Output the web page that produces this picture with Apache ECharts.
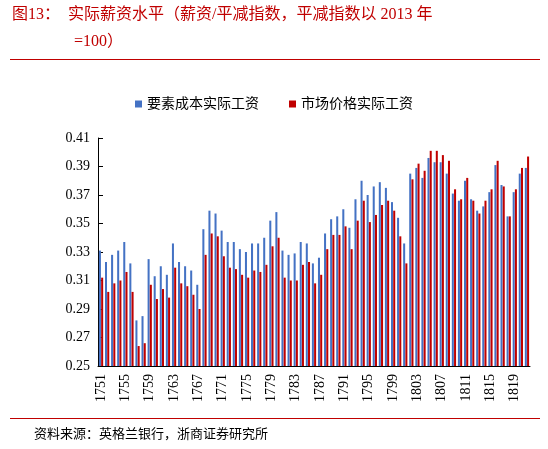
<!DOCTYPE html><html><head><meta charset="utf-8">
<script src="https://cdn.jsdelivr.net/npm/echarts@6/dist/echarts.min.js"></script>
<style>body{margin:0;background:#fff}#c{width:548px;height:449px}</style></head><body><div id="c"></div><script>
const years=[];for(let y=1751;y<=1821;y++)years.push(String(y));
const factorCost=[0.331,0.323,0.328,0.331,0.337,0.322,0.282,0.285,0.325,0.313,0.320,0.314,0.336,0.323,0.320,0.317,0.307,0.346,0.359,0.357,0.345,0.337,0.337,0.332,0.330,0.336,0.336,0.340,0.352,0.358,0.331,0.328,0.329,0.337,0.336,0.322,0.326,0.343,0.353,0.355,0.360,0.347,0.367,0.380,0.370,0.376,0.379,0.375,0.365,0.354,0.336,0.385,0.389,0.382,0.396,0.393,0.393,0.385,0.371,0.366,0.380,0.367,0.359,0.362,0.372,0.391,0.377,0.355,0.372,0.385,0.389];
const marketPrice=[0.312,0.302,0.308,0.310,0.316,0.302,0.264,0.266,0.307,0.297,0.304,0.298,0.319,0.308,0.306,0.300,0.290,0.328,0.343,0.341,0.327,0.319,0.318,0.314,0.312,0.317,0.316,0.321,0.334,0.340,0.312,0.310,0.310,0.321,0.323,0.308,0.314,0.332,0.342,0.342,0.348,0.332,0.352,0.366,0.351,0.356,0.363,0.366,0.359,0.341,0.322,0.381,0.392,0.387,0.401,0.401,0.398,0.394,0.374,0.367,0.382,0.366,0.357,0.366,0.374,0.394,0.376,0.355,0.374,0.389,0.397];
const yTicks=[0.25,0.41,0.02];
const c=echarts.init(document.getElementById('c'));
const serif='"Liberation Serif","Noto Sans CJK SC",serif';
c.setOption({
 graphic:[
  {type:'text',left:12,top:7,style:{text:'图13：  实际薪资水平（薪资/平减指数，平减指数以 2013 年',fill:'#C00000',font:'16px '+serif}},
  {type:'text',left:74,top:34,style:{text:'=100）',fill:'#C00000',font:'16px '+serif}},
  {type:'rect',shape:{x:10,y:59,width:530,height:1},style:{fill:'#C00000'}},
  {type:'rect',shape:{x:10,y:418,width:530,height:1},style:{fill:'#C00000'}},
  {type:'text',left:34,top:428,style:{text:'资料来源：英格兰银行，浙商证券研究所',fill:'#000',font:'13px '+serif}}
 ],
 legend:{top:92,left:'center',itemWidth:7,itemHeight:7,itemGap:30,icon:'rect',textStyle:{fontFamily:serif,fontSize:14,color:'#000'}},
 grid:{left:98,right:18,top:138,bottom:83},
 xAxis:{type:'category',data:years,axisLine:{lineStyle:{color:'#000'}},axisTick:{show:false},
  axisLabel:{interval:3,rotate:90,fontFamily:'"Liberation Serif",serif',fontSize:14,color:'#000'}},
 yAxis:{type:'value',min:yTicks[0],max:yTicks[1],interval:yTicks[2],splitLine:{show:false},
  axisLine:{show:true,lineStyle:{color:'#000'}},axisTick:{show:true,inside:true},
  axisLabel:{formatter:v=>v.toFixed(2),fontFamily:'"Liberation Serif",serif',fontSize:14,color:'#000'}},
 series:[
  {name:'要素成本实际工资',type:'bar',data:factorCost,itemStyle:{color:'#4472C4'},barGap:'10%',barCategoryGap:'30%'},
  {name:'市场价格实际工资',type:'bar',data:marketPrice,itemStyle:{color:'#C00000'}}
 ]
});
</script></body></html>
